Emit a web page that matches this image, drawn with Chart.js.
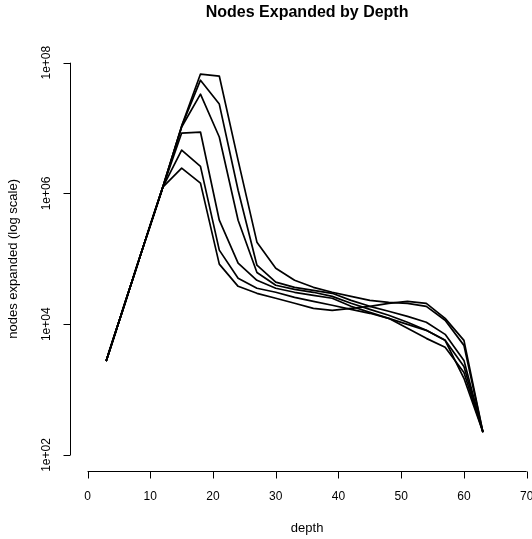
<!DOCTYPE html>
<html>
<head>
<meta charset="utf-8">
<script src="https://cdn.jsdelivr.net/npm/chart.js@4"></script>
<style>
  html, body { margin: 0; padding: 0; background: #fff; }
  #chart { display: block; }
</style>
</head>
<body>
<canvas id="chart" width="532" height="539"></canvas>
<script>
const depths = [3, 6, 9, 12, 15, 18, 21, 24, 27, 30, 33, 36, 39, 42, 45, 48, 51, 54, 57, 60, 63];

const run1 = [2800, 21600, 167000, 1250000, 10700000, 67000000, 62500000, 3200000, 180000, 72000, 47000, 36700, 30800, 26700, 23200, 21600, 20900, 18800, 11500, 4750, 229];
const run2 = [2800, 21600, 167000, 1250000, 10700000, 54000000, 23300000, 1120000, 80000, 44000, 36700, 33000, 29700, 23200, 18800, 15800, 13200, 10700, 7000, 2800, 229];
const run3 = [2800, 21600, 167000, 1250000, 10400000, 33000000, 7300000, 390000, 62000, 39500, 34200, 30800, 26700, 20900, 16900, 13700, 10700, 8070, 5670, 2260, 229];
const run4 = [2800, 21600, 167000, 1250000, 8400000, 8700000, 390000, 86000, 47000, 35500, 30800, 27700, 25000, 18800, 15200, 12300, 8650, 6080, 4430, 1830, 229];
const run5 = [2800, 21600, 167000, 1250000, 4600000, 2600000, 136000, 50500, 35500, 30800, 25800, 22400, 19500, 16900, 14700, 12300, 9950, 8070, 5670, 1490, 229];
const run6 = [2800, 21600, 167000, 1250000, 2440000, 1440000, 83000, 38000, 29700, 25000, 20900, 17500, 16300, 17500, 18800, 20900, 22400, 20900, 12300, 5670, 229];

const xTicks = [0, 10, 20, 30, 40, 50, 60, 70];
const yTicks = [1e2, 1e4, 1e6, 1e8];
const yTickLabels = ['1e+02', '1e+04', '1e+06', '1e+08'];

const FONT = '"Liberation Sans", Arial, Helvetica, sans-serif';

function toPoints(values) {
    return values.map((v, i) => ({ x: depths[i], y: v }));
}

// R style axes: line only between first and last tick, ticks pointing out
const rAxes = {
    id: 'rAxes',
    afterDraw(chart) {
        const c = chart.ctx;
        const xs = chart.scales.x;
        const ys = chart.scales.y;
        const area = chart.chartArea;
        // R centres titles on the full plot region (0..70 plus 4%), i.e. on depth 35
        const xMid = xs.getPixelForValue(35);
        c.save();
        c.strokeStyle = '#000';
        c.fillStyle = '#000';
        c.lineWidth = 1;
        c.textAlign = 'center';
        c.textBaseline = 'middle';

        c.font = 'bold 16px ' + FONT;
        c.fillText('Nodes Expanded by Depth', xMid, 13);

        c.font = '12px ' + FONT;

        // x axis
        const yb = Math.round(area.bottom) + 0.5;
        c.beginPath();
        c.moveTo(xs.getPixelForValue(xTicks[0]), yb);
        c.lineTo(xs.getPixelForValue(xTicks[xTicks.length - 1]), yb);
        xTicks.forEach(t => {
            const px = Math.round(xs.getPixelForValue(t)) + 0.5;
            c.moveTo(px, yb);
            c.lineTo(px, yb + 7);
        });
        c.stroke();
        xTicks.forEach(t => {
            c.fillText(String(t), xs.getPixelForValue(t), yb + 25);
        });

        // y axis
        const xl = Math.round(area.left) + 0.5;
        c.beginPath();
        c.moveTo(xl, ys.getPixelForValue(yTicks[0]));
        c.lineTo(xl, ys.getPixelForValue(yTicks[yTicks.length - 1]));
        yTicks.forEach(t => {
            const py = Math.round(ys.getPixelForValue(t)) + 0.5;
            c.moveTo(xl, py);
            c.lineTo(xl - 7, py);
        });
        c.stroke();
        yTicks.forEach((t, i) => {
            c.save();
            c.translate(xl - 24, ys.getPixelForValue(t));
            c.rotate(-Math.PI / 2);
            c.fillText(yTickLabels[i], 0, 0);
            c.restore();
        });

        // axis titles
        c.font = '13px ' + FONT;
        c.fillText('depth', xMid, 528);
        c.save();
        c.translate(13, (area.top + area.bottom) / 2);
        c.rotate(-Math.PI / 2);
        c.fillText('nodes expanded (log scale)', 0, 0);
        c.restore();

        c.restore();
    }
};

const lineStyle = {
    borderColor: '#000',
    borderWidth: 1.7,
    borderJoinStyle: 'round',
    borderCapStyle: 'round',
    pointRadius: 0,
    tension: 0,
    fill: false
};

new Chart(document.getElementById('chart'), {
    type: 'line',
    data: {
        datasets: [run1, run2, run3, run4, run5, run6].map((r, i) => ({
            label: 'run ' + (i + 1),
            data: toPoints(r),
            ...lineStyle
        }))
    },
    options: {
        responsive: false,
        animation: false,
        devicePixelRatio: 1,
        layout: {
            autoPadding: false,
            padding: { left: 70, right: 0, top: 47, bottom: 68.3 }
        },
        scales: {
            x: { type: 'linear', min: -2.8, max: 70.85, display: false },
            y: { type: 'logarithmic', min: Math.pow(10, 1.76), max: Math.pow(10, 8.24), display: false }
        },
        plugins: {
            legend: { display: false },
            tooltip: { enabled: false },
            title: { display: false }
        }
    },
    plugins: [rAxes]
});
</script>
</body>
</html>
